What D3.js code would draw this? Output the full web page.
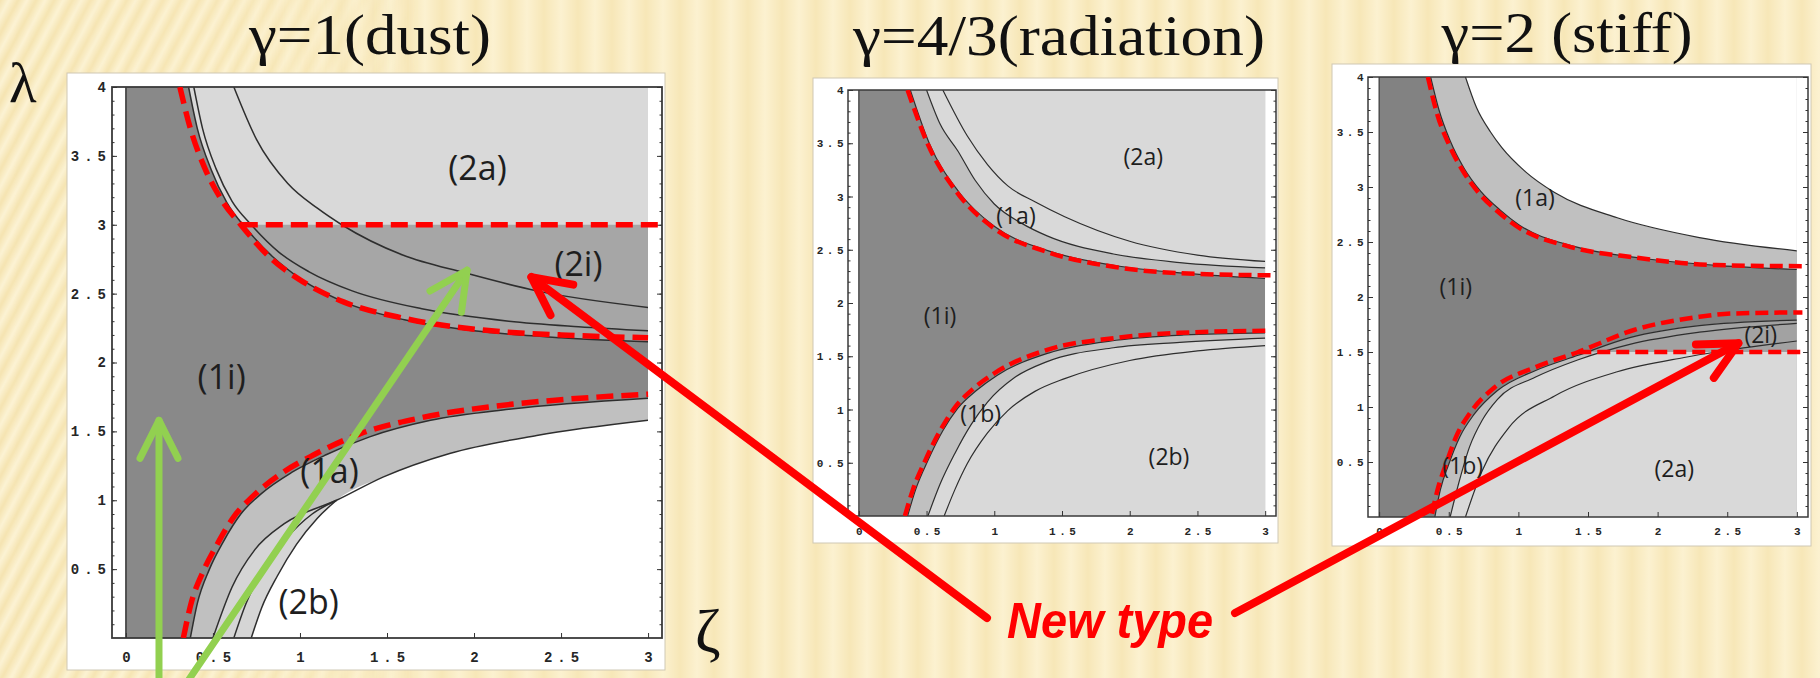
<!doctype html>
<html>
<head>
<meta charset="utf-8">
<title>gamma regions</title>
<style>
body { margin:0; background:#f9ecc3; }
svg { display:block; }
.tk text { font-family:"Liberation Mono", monospace; font-weight:bold; fill:#262626; }
.tk line { stroke:#333; }
.tk path { display:none; }
</style>
</head>
<body>
<svg id="slide" width="1820" height="678"></svg>
<script src="https://d3js.org/d3.v7.min.js"></script>
<script>
// axis ticks shared by the three plots
var xTicks = [0, 0.5, 1, 1.5, 2, 2.5, 3];
var xTickLabels = ["0", "0.5", "1", "1.5", "2", "2.5", "3"];
var yTicks = [0.5, 1, 1.5, 2, 2.5, 3, 3.5, 4];
var yTickLabels = ["0.5", "1", "1.5", "2", "2.5", "3", "3.5", "4"];
var titles = ["γ=1(dust)", "γ=4/3(radiation)", "γ=2 (stiff)"];

// gamma = 1 (dust), points are [zeta, lambda]
var dustUpperInner = [[0.36,4],[0.41,3.7],[0.49,3.4],[0.58,3.16],[0.7,2.96],[0.85,2.76],[1.0,2.61],[1.25,2.44],[1.6,2.31],[2.0,2.23],[2.5,2.18],[3.0,2.15]];
var dustUpperMid = [[0.39,4],[0.44,3.7],[0.52,3.4],[0.61,3.17],[0.72,3.0],[0.88,2.8],[1.05,2.66],[1.3,2.52],[1.7,2.39],[2.2,2.3],[2.6,2.26],[3.0,2.23]];
var dustUpperOuter = [[0.62,4],[0.75,3.62],[0.93,3.3],[1.1,3.12],[1.24,3.0],[1.59,2.78],[1.95,2.65],[2.36,2.52],[3.0,2.4]];
var dustLowerInner = [[0.37,0],[0.41,0.25],[0.48,0.5],[0.56,0.7],[0.66,0.9],[0.78,1.05],[0.95,1.2],[1.15,1.33],[1.4,1.46],[1.75,1.58],[2.2,1.66],[3.0,1.74]];
var dustLowerOuter = [[0.5,0],[0.61,0.37],[0.74,0.64],[0.91,0.83],[1.21,1.0],[1.48,1.17],[1.86,1.34],[2.36,1.47],[3.0,1.58]];
var dustLowerMid = [[0.62,0],[0.69,0.25],[0.79,0.5],[0.92,0.72],[1.07,0.9],[1.21,1.0]];
var dustLowerEdge = [[0.72,0],[0.78,0.22],[0.87,0.45],[0.98,0.68],[1.1,0.87],[1.21,1.0]];
var dustRedUpper = [[0.31,4],[0.37,3.7],[0.45,3.42],[0.55,3.18],[0.66,3.0],[0.83,2.76],[1.0,2.6],[1.25,2.44],[1.6,2.32],[2.1,2.23],[2.5,2.2],[3.0,2.18]];
var dustRedLower = [[0.33,0],[0.37,0.23],[0.45,0.5],[0.52,0.67],[0.62,0.88],[0.73,1.03],[0.9,1.2],[1.08,1.33],[1.34,1.48],[1.7,1.6],[2.1,1.68],[2.5,1.73],[3.0,1.77]];
var dustRedFlat = [[0.66,3],[3.08,3]];
var dustLabels = [["(2a)",2.02,3.42],["(2i)",2.6,2.72],["(1i)",0.55,1.9],["(1a)",1.17,1.22],["(2b)",1.05,0.27]];

// gamma = 4/3 (radiation)
var radUpperInner = [[0.38,4],[0.52,3.5],[0.74,3.04],[1.0,2.72],[1.4,2.49],[1.9,2.35],[2.4,2.28],[3.0,2.23]];
var radUpperMid = [[0.5,4],[0.6,3.68],[0.73,3.43],[0.86,3.15],[1.0,2.93],[1.2,2.75],[1.39,2.63],[1.88,2.46],[2.37,2.38],[3.0,2.33]];
var radUpperOuter = [[0.62,4],[0.8,3.57],[0.95,3.3],[1.1,3.1],[1.3,2.95],[1.52,2.81],[2.0,2.58],[2.5,2.45],[3.0,2.39]];
var radLowerInner = [[0.36,0],[0.42,0.25],[0.51,0.52],[0.62,0.8],[0.73,1.01],[0.87,1.18],[1.02,1.32],[1.4,1.53],[1.9,1.65],[2.4,1.7],[3.0,1.72]];
var radLowerMid = [[0.51,0],[0.6,0.3],[0.71,0.59],[0.83,0.86],[0.95,1.07],[1.15,1.3],[1.39,1.45],[1.88,1.58],[2.37,1.63],[3.0,1.67]];
var radLowerOuter = [[0.63,0],[0.71,0.25],[0.8,0.49],[0.95,0.78],[1.1,0.99],[1.3,1.17],[1.52,1.29],[2.0,1.46],[2.5,1.55],[3.0,1.6]];
var radRedUpper = [[0.36,4],[0.51,3.49],[0.73,3.03],[1.0,2.7],[1.39,2.48],[1.88,2.34],[2.37,2.28],[3.04,2.26]];
var radRedLower = [[0.34,0],[0.4,0.25],[0.49,0.52],[0.6,0.8],[0.71,1.02],[0.85,1.2],[1.0,1.34],[1.39,1.56],[1.88,1.67],[2.37,1.72],[3.04,1.74]];
var radLabels = [["(2a)",2.1,3.38],["(1a)",1.16,2.83],["(1i)",0.6,1.89],["(1b)",0.9,0.97],["(2b)",2.29,0.56]];

// gamma = 2 (stiff)
var stiffUpperInner = [[0.37,4],[0.43,3.7],[0.51,3.42],[0.61,3.17],[0.73,2.96],[0.87,2.79],[1.0,2.66],[1.4,2.46],[1.9,2.35],[2.4,2.29],[3.0,2.25]];
var stiffUpperOuter = [[0.62,4],[0.7,3.72],[0.8,3.5],[0.88,3.36],[1.05,3.14],[1.26,2.95],[1.71,2.72],[2.3,2.54],[3.0,2.42]];
var stiffLowerInner = [[0.4,0],[0.44,0.25],[0.5,0.48],[0.58,0.73],[0.68,0.93],[0.85,1.15],[1.12,1.33],[1.43,1.47],[1.8,1.63],[2.3,1.74],[3.0,1.79]];
var stiffLowerMid = [[0.51,0],[0.57,0.3],[0.65,0.64],[0.74,0.88],[0.85,1.07],[1.12,1.27],[1.43,1.43],[1.8,1.57],[2.3,1.68],[3.0,1.76]];
var stiffLowerOuter = [[0.62,0],[0.74,0.42],[0.93,0.81],[1.26,1.1],[1.71,1.32],[2.19,1.45],[2.42,1.5],[3.0,1.6]];
var stiffRedUpper = [[0.35,4],[0.42,3.65],[0.5,3.39],[0.6,3.15],[0.72,2.94],[0.85,2.78],[0.98,2.65],[1.36,2.46],[1.83,2.36],[2.42,2.29],[3.04,2.28]];
var stiffRedLower = [[0.38,0.03],[0.42,0.25],[0.48,0.48],[0.56,0.75],[0.65,0.94],[0.83,1.18],[1.12,1.36],[1.43,1.5],[1.83,1.7],[2.3,1.82],[2.54,1.85],[3.04,1.86]];
var stiffRedFlat = [[1.43,1.5],[3.04,1.5]];
var stiffLabels = [["(1a)",1.12,2.91],["(1i)",0.55,2.1],["(2i)",2.74,1.66],["(1b)",0.6,0.47],["(2a)",2.12,0.45]];

// arrow tips in data coords of a panel, tails in page pixels
var arrows = [
  {panel:0, tip:[2.33,2.62], tail:[987,618], color:"#ff0000", w:8},
  {panel:2, tip:[2.58,1.58], tail:[1235,613], color:"#ff0000", w:8},
  {panel:0, tip:[0.19,1.58], tail:[159,700], color:"#92d050", w:7},
  {panel:0, tip:[1.96,2.67], tail:[175,700], color:"#92d050", w:7}
];

var layout = [
  {box:[67,73,598,597], frame:[112,87,662,638], fs:14, ls:5, padX:14, lab:34, lw:1.5, redW:5.5, dash:"17,8", title:[370,54,242], dark:"#898989"},
  {box:[813,78,465,465], frame:[848,90,1276,516], fs:11, ls:3.5, padX:11, lab:23, lw:1.2, redW:4.5, dash:"13,6", title:[1059,55,412], dark:"#898989"},
  {box:[1332,64,479,482], frame:[1368,77,1808,517], fs:11, ls:3.5, padX:10, lab:23, lw:1.2, redW:4.5, dash:"13,6", title:[1567,52,251], dark:"#828282"}
];

var panels = [
  {fills:[
     {pts:dustUpperInner, side:"above", color:"#a6a6a6"},
     {pts:dustUpperInner, side:"above", color:"#d9d9d9", band:[3,4]},
     {pts:dustLowerInner, side:"below", color:"#c0c0c0"},
     {pts:dustLowerOuter, side:"below", color:"#d5d5d5"},
     {pts:dustLowerEdge.concat(dustLowerOuter.filter(function(d){return d[0] > 1.21;})), side:"below", color:"#ffffff"}],
   lines:[dustUpperInner, dustUpperMid, dustUpperOuter, dustLowerInner, dustLowerOuter, dustLowerMid, dustLowerEdge],
   red:[dustRedUpper, dustRedLower], flat:[dustRedFlat], labels:dustLabels},
  {fills:[
     {pts:radUpperInner, side:"above", color:"#c0c0c0"},
     {pts:radUpperMid, side:"above", color:"#d9d9d9"},
     {pts:radLowerInner, side:"below", color:"#c0c0c0"},
     {pts:radLowerMid, side:"below", color:"#d9d9d9"}],
   lines:[radUpperInner, radUpperMid, radUpperOuter, radLowerInner, radLowerMid, radLowerOuter],
   red:[radRedUpper, radRedLower], flat:[], labels:radLabels},
  {fills:[
     {pts:stiffUpperInner, side:"above", color:"#c0c0c0"},
     {pts:stiffUpperOuter, side:"above", color:"#ffffff"},
     {pts:stiffLowerInner, side:"below", color:"#c0c0c0"},
     {pts:stiffLowerMid, side:"below", color:"#d9d9d9"},
     {pts:stiffLowerInner, side:"below", color:"#a2a2a2", band:[1.5,4]}],
   lines:[stiffUpperInner, stiffUpperOuter, stiffLowerInner, stiffLowerMid, stiffLowerOuter],
   red:[stiffRedUpper, stiffRedLower], flat:[stiffRedFlat], labels:stiffLabels}
];

var svg = d3.select("#slide");
var defs = svg.append("defs");

// slide background: soft vertical stripes, diagonal ones fading in at the left
var sg = defs.append("linearGradient").attr("id","stripeGrad");
sg.append("stop").attr("offset",0).attr("stop-color","#f3e0a8");
sg.append("stop").attr("offset",0.5).attr("stop-color","#fdf5da");
sg.append("stop").attr("offset",1).attr("stop-color","#f3e0a8");
defs.append("pattern").attr("id","vStripes").attr("patternUnits","userSpaceOnUse")
  .attr("width",34).attr("height",678)
  .append("rect").attr("width",34).attr("height",678).attr("fill","url(#stripeGrad)");
defs.append("pattern").attr("id","dStripes").attr("patternUnits","userSpaceOnUse")
  .attr("width",16).attr("height",2000).attr("patternTransform","rotate(28)")
  .append("rect").attr("width",16).attr("height",2000).attr("fill","url(#stripeGrad)");
var fg = defs.append("linearGradient").attr("id","fadeGrad");
fg.append("stop").attr("offset",0).attr("stop-color","#fff");
fg.append("stop").attr("offset",0.55).attr("stop-color","#fff").attr("stop-opacity",0.8);
fg.append("stop").attr("offset",1).attr("stop-color","#fff").attr("stop-opacity",0);
defs.append("mask").attr("id","fadeMask")
  .append("rect").attr("width",420).attr("height",678).attr("fill","url(#fadeGrad)");

svg.append("rect").attr("width",1820).attr("height",678).attr("fill","#faedc6");
svg.append("rect").attr("width",1820).attr("height",678).attr("fill","url(#vStripes)").attr("opacity",0.5);
svg.append("rect").attr("width",420).attr("height",678).attr("fill","#faedc6").attr("mask","url(#fadeMask)");
svg.append("rect").attr("width",420).attr("height",678).attr("fill","url(#dStripes)").attr("mask","url(#fadeMask)").attr("opacity",0.7);

var scales = [];

panels.forEach(function(spec, p) {
  var L = layout[p];
  var g = svg.append("g");
  g.append("rect").attr("x",L.box[0]).attr("y",L.box[1]).attr("width",L.box[2]).attr("height",L.box[3])
    .attr("fill","#fff").attr("stroke","#cfc8b4").attr("stroke-width",1);

  var x = d3.scaleLinear().domain([-0.08,3.08]).range([L.frame[0], L.frame[2]]);
  var y = d3.scaleLinear().domain([0,4]).range([L.frame[3], L.frame[1]]);
  scales.push({x:x, y:y});
  var line = d3.line().x(function(d){return x(d[0]);}).y(function(d){return y(d[1]);}).curve(d3.curveMonotoneX);
  var flatLine = d3.line().x(function(d){return x(d[0]);}).y(function(d){return y(d[1]);});

  defs.append("clipPath").attr("id","data"+p).append("rect")
    .attr("x",x(0)).attr("y",y(4)).attr("width",x(3)-x(0)).attr("height",y(0)-y(4));
  defs.append("clipPath").attr("id","frame"+p).append("rect")
    .attr("x",L.frame[0]).attr("y",L.frame[1]).attr("width",L.frame[2]-L.frame[0]).attr("height",L.frame[3]-L.frame[1]);

  var plot = g.append("g").attr("clip-path","url(#data"+p+")");
  plot.append("rect").attr("x",x(0)).attr("y",y(4)).attr("width",x(3)-x(0)).attr("height",y(0)-y(4)).attr("fill",L.dark);

  spec.fills.forEach(function(f, i) {
    var first = f.pts[0], last = f.pts[f.pts.length-1];
    var edge = f.side === "above" ? 4.2 : -0.2;
    var d = line(f.pts) + "L" + x(3.2) + "," + y(last[1]) + "L" + x(3.2) + "," + y(edge) + "L" + x(first[0]) + "," + y(edge) + "Z";
    var target = plot;
    if (f.band) {
      var cid = "band" + p + "_" + i;
      defs.append("clipPath").attr("id",cid).append("rect")
        .attr("x",x(-0.1)).attr("y",y(f.band[1])).attr("width",x(3.2)-x(-0.1)).attr("height",y(f.band[0])-y(f.band[1]));
      target = plot.append("g").attr("clip-path","url(#"+cid+")");
    }
    target.append("path").attr("d",d).attr("fill",f.color);
  });

  spec.lines.forEach(function(pts) {
    plot.append("path").attr("d",line(pts)).attr("fill","none").attr("stroke","#2e2e2e").attr("stroke-width",L.lw);
  });

  // zeta = 0 edge and frame
  g.append("line").attr("x1",x(0)).attr("x2",x(0)).attr("y1",y(4)).attr("y2",y(0)).attr("stroke","#333").attr("stroke-width",L.lw);
  g.append("rect").attr("x",L.frame[0]).attr("y",L.frame[1]).attr("width",L.frame[2]-L.frame[0]).attr("height",L.frame[3]-L.frame[1])
    .attr("fill","none").attr("stroke","#3a3a3a").attr("stroke-width",L.lw+0.3);

  // ticks
  var minor = d3.range(1,40).map(function(i){return i/10;});
  g.append("g").attr("class","tk").attr("transform","translate("+L.frame[0]+",0)")
    .call(d3.axisLeft(y).tickValues(minor).tickSize(-2.5).tickFormat(""));
  g.append("g").attr("class","tk").attr("transform","translate("+L.frame[2]+",0)")
    .call(d3.axisRight(y).tickValues(minor).tickSize(-2.5).tickFormat(""));
  g.append("g").attr("class","tk").attr("transform","translate("+L.frame[2]+",0)")
    .call(d3.axisRight(y).tickValues(yTicks).tickSize(-5).tickFormat(""));
  g.append("g").attr("class","tk").attr("transform","translate("+L.frame[0]+",0)")
    .call(d3.axisLeft(y).tickValues(yTicks).tickSize(-5).tickPadding(1).tickFormat(function(d,i){return yTickLabels[i];}));
  var xl = g.append("g").attr("class","tk").attr("transform","translate(0,"+L.frame[3]+")")
    .call(d3.axisBottom(x).tickValues(xTicks).tickSize(-5).tickPadding(L.padX).tickFormat(function(d,i){return xTickLabels[i];}));
  g.selectAll(".tk text").attr("font-size",L.fs).style("letter-spacing",L.ls+"px");
  xl.selectAll("text").attr("dx",(L.ls/2)+"px");

  // red dashed overlays
  var red = g.append("g").attr("clip-path","url(#frame"+p+")");
  spec.red.forEach(function(pts) {
    red.append("path").attr("d",line(pts)).attr("fill","none").attr("stroke","#ff0000")
      .attr("stroke-width",L.redW).attr("stroke-dasharray",L.dash);
  });
  spec.flat.forEach(function(pts) {
    red.append("path").attr("d",flatLine(pts)).attr("fill","none").attr("stroke","#ff0000")
      .attr("stroke-width",L.redW).attr("stroke-dasharray",L.dash);
  });

  // region names
  g.selectAll(".rl").data(spec.labels).enter().append("text")
    .attr("x",function(d){return x(d[1]);}).attr("y",function(d){return y(d[2]);})
    .attr("text-anchor","middle").attr("dominant-baseline","central")
    .attr("font-family","'Open Sans', Lato, sans-serif").attr("font-size",L.lab).attr("fill","#1e1e1e")
    .text(function(d){return d[0];});

  // title
  svg.append("text").attr("x",L.title[0]).attr("y",L.title[1]).attr("text-anchor","middle")
    .attr("font-family","'Liberation Serif', 'Times New Roman', serif").attr("font-size",58).attr("fill","#111")
    .attr("textLength",L.title[2]).attr("lengthAdjust","spacingAndGlyphs")
    .text(titles[p]);
});

// axis symbols
svg.append("text").attr("x",9).attr("y",102).attr("font-family","'Liberation Serif', serif").attr("font-size",57).attr("fill","#111").text("λ");
svg.append("text").attr("x",695).attr("y",652).attr("font-family","'Liberation Serif', serif").attr("font-size",62).attr("fill","#111").text("ζ");

// arrows
["#ff0000","#92d050"].forEach(function(c, i) {
  defs.append("marker").attr("id","head"+i).attr("markerUnits","userSpaceOnUse")
    .attr("viewBox","-50 -30 60 60").attr("markerWidth",60).attr("markerHeight",60)
    .attr("refX",0).attr("refY",0).attr("orient","auto")
    .append("path").attr("d","M-38,-19L0,0L-38,19").attr("fill","none").attr("stroke",c)
    .attr("stroke-width",i === 0 ? 8 : 7).attr("stroke-linecap","round").attr("stroke-linejoin","round");
});
arrows.forEach(function(a) {
  var s = scales[a.panel];
  svg.append("line").attr("x1",a.tail[0]).attr("y1",a.tail[1])
    .attr("x2",s.x(a.tip[0])).attr("y2",s.y(a.tip[1]))
    .attr("stroke",a.color).attr("stroke-width",a.w).attr("stroke-linecap","round")
    .attr("marker-end","url(#head"+(a.color === "#ff0000" ? 0 : 1)+")");
});

svg.append("text").attr("x",1007).attr("y",638).attr("font-family","'Liberation Sans', sans-serif")
  .attr("font-style","italic").attr("font-weight","bold").attr("font-size",50).attr("fill","#ff0000")
  .attr("textLength",206).attr("lengthAdjust","spacingAndGlyphs").text("New type");
</script>
</body>
</html>
